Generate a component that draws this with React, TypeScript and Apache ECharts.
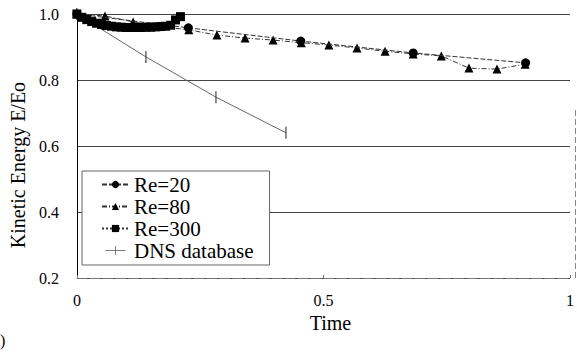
import React, { useEffect, useRef } from "react";
import * as echarts from "echarts";

const FONT = "Liberation Serif";
const FONT2 = "Times New Roman";

const re20Time = [0, 0.226, 0.454, 0.682, 0.91];
const re20Energy = [1.0, 0.958, 0.918, 0.882, 0.852];

const re80Time = [0, 0.057, 0.114, 0.17, 0.227, 0.284, 0.341, 0.398, 0.455, 0.511, 0.568, 0.625, 0.682, 0.739, 0.795, 0.852, 0.909];
const re80Energy = [1.0, 0.994, 0.976, 0.962, 0.952, 0.936, 0.927, 0.921, 0.913, 0.906, 0.897, 0.887, 0.879, 0.873, 0.836, 0.833, 0.848];

const re300Time = [0, 0.01, 0.02, 0.03, 0.04, 0.05, 0.06, 0.07, 0.08, 0.09, 0.1, 0.11, 0.12, 0.13, 0.14, 0.15, 0.16, 0.17, 0.18, 0.19, 0.2, 0.21];
const re300Energy = [1.0, 0.99, 0.983, 0.977, 0.972, 0.968, 0.965, 0.963, 0.961, 0.96, 0.959, 0.959, 0.959, 0.959, 0.96, 0.96, 0.961, 0.962, 0.963, 0.966, 0.982, 0.992];

const dnsTime = [0, 0.14, 0.282, 0.424];
const dnsEnergy = [1.0, 0.87, 0.748, 0.64];

const xTicks = [0, 0.5, 1];
const yTicks = [0.2, 0.4, 0.6, 0.8, 1.0];
const legendNames = ["Re=20", "Re=80", "Re=300", "DNS database"];

const pairs = (xs: number[], ys: number[]) => xs.map((x, i) => [x, ys[i]]);

const DNS_ICON = "path://M0,5.5H13V0H14V5.5H27V6.5H14V12H13V6.5H0Z";

export default function App() {
  const ref = useRef<HTMLDivElement>(null);
  useEffect(() => {
    if (!ref.current) return;
    const chart = echarts.init(ref.current, null, { renderer: "svg" });
    chart.setOption({
      animation: false,
      backgroundColor: "#ffffff",
      textStyle: { fontFamily: FONT, color: "#000" },
      grid: { left: 76, right: 1, top: 14, bottom: 76 },
      xAxis: {
        type: "value",
        min: xTicks[0],
        max: xTicks[xTicks.length - 1],
        interval: 0.5,
        name: "Time",
        nameLocation: "middle",
        nameGap: 32,
        nameTextStyle: { fontSize: 20, color: "#000", fontFamily: FONT, padding: [0, 0, 0, 14] },
        axisLine: { show: true, onZero: false, lineStyle: { color: "#777", width: 1, type: [10, 3] } },
        axisTick: { show: true, inside: true, length: 3, lineStyle: { color: "#777" } },
        axisLabel: {
          margin: 14,
          fontFamily: FONT2,
          fontSize: 16,
          fontWeight: "normal",
          color: "#000",
          formatter: (v: number) => String(v),
        },
        splitLine: { show: false },
      },
      yAxis: {
        type: "value",
        min: yTicks[0],
        max: yTicks[yTicks.length - 1],
        interval: 0.2,
        name: "Kinetic Energy E/Eo",
        nameLocation: "middle",
        nameGap: 43,
        nameRotate: 90,
        nameTextStyle: { fontSize: 20, color: "#000", fontFamily: FONT, padding: [0, 38, 0, 0] },
        axisLine: { show: true, lineStyle: { color: "#000", width: 1 } },
        axisTick: { show: false },
        axisLabel: {
          margin: 18,
          fontFamily: FONT2,
          fontSize: 16,
          fontWeight: "normal",
          color: "#000",
          formatter: (v: number) => v.toFixed(1),
        },
        splitLine: { show: true, lineStyle: { color: "#444", width: 1 } },
      },
      legend: {
        orient: "vertical",
        left: 82,
        top: 171,
        padding: [3, 16, 4, 19],
        itemGap: 1,
        itemWidth: 27,
        itemHeight: 9,
        borderColor: "#666",
        borderWidth: 1,
        backgroundColor: "#fff",
        textStyle: { fontFamily: FONT2, fontSize: 21, fontWeight: "normal", color: "#000" },
        data: [
          legendNames[0],
          legendNames[1],
          legendNames[2],
          { name: legendNames[3], icon: DNS_ICON, itemStyle: { color: "#555" } },
        ],
      },
      graphic: [
        {
          type: "line",
          shape: { x1: 575.5, y1: 110, x2: 575.5, y2: 278 },
          style: { stroke: "#888", lineWidth: 1, lineDash: [6, 3] },
        },
        {
          type: "text",
          left: 0,
          top: 332,
          style: { text: ")", fontSize: 16, fontFamily: FONT, fill: "#000" },
        },
      ],
      series: [
        {
          name: legendNames[3],
          type: "line",
          data: pairs(dnsTime, dnsEnergy),
          symbol: "rect",
          symbolSize: [1.2, 12],
          itemStyle: { color: "#444" },
          lineStyle: { color: "#666", width: 1 },
          z: 2,
        },
        {
          name: legendNames[0],
          type: "line",
          data: pairs(re20Time, re20Energy),
          symbol: "circle",
          symbolSize: 9,
          itemStyle: { color: "#000" },
          lineStyle: { color: "#333", width: 1, type: [5, 2] },
          z: 4,
        },
        {
          name: legendNames[1],
          type: "line",
          data: pairs(re80Time, re80Energy),
          symbol: "triangle",
          symbolSize: 9,
          itemStyle: { color: "#000" },
          lineStyle: { color: "#333", width: 1, type: [5, 2, 1, 2] },
          z: 3,
        },
        {
          name: legendNames[2],
          type: "line",
          data: pairs(re300Time, re300Energy),
          symbol: "rect",
          symbolSize: 9,
          itemStyle: { color: "#000" },
          lineStyle: { color: "#333", width: 1, type: [2, 2] },
          z: 5,
        },
      ],
    });
    return () => chart.dispose();
  }, []);
  return <div ref={ref} style={{ position: "fixed", left: 0, top: 0, width: 577, height: 354 }} />;
}
